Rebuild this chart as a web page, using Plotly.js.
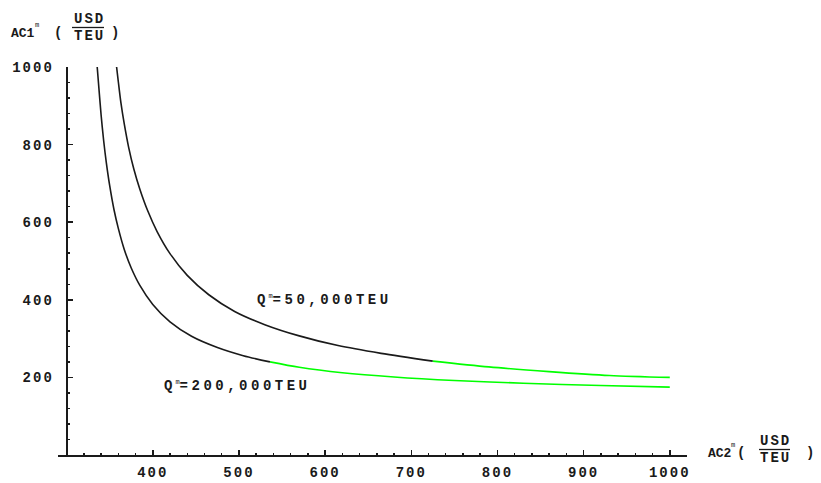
<!DOCTYPE html>
<html>
<head>
<meta charset="utf-8">
<script src="https://cdn.plot.ly/plotly-3.0.1.min.js"></script>
<style>html,body{margin:0;padding:0;background:#fff;}#chart{width:821px;height:483px;}</style>
</head>
<body>
<div id="chart"></div>
<script>
// Q^m = 200,000 TEU curve (black part, then green part)
const lowBlackX = [335.5, 337, 340, 343, 346, 350, 355, 360, 367, 375, 385, 400, 420, 445, 475, 505, 536];
const lowBlackY = [1000, 958, 877, 810, 755, 694, 632, 584, 529, 482, 437, 388, 343, 306, 277, 256, 240];
const lowGreenX = [536, 570, 620, 680, 750, 830, 920, 1000];
const lowGreenY = [240, 226, 212, 201, 192, 185, 179, 175];
// Q^m = 50,000 TEU curve
const upBlackX = [358, 360, 363, 367, 372, 378, 385, 394, 405, 420, 440, 465, 495, 530, 570, 615, 665, 725];
const upBlackY = [1000, 962, 908, 852, 793, 737, 685, 630, 576, 519, 463, 413, 370, 336, 307, 282, 262, 242];
const upGreenX = [725, 790, 860, 930, 1000];
const upGreenY = [242, 227, 215, 205, 200];

const xTickVals = [400, 500, 600, 700, 800, 900, 1000];
const yTickVals = [200, 400, 600, 800, 1000];
const curveLabels = ["Q", "=50,000TEU", "=200,000TEU"];

const L = 58, R = 134, T = 67, B = 28, W = 821, H = 483;
const PW = W - L - R, PH = H - T - B;
const px = v => (v - L) / PW;
const py = v => (H - B - v) / PH;

const FONT = "Liberation Mono, Courier New, monospace";
const black = "#1a1a1a", green = "#00ff00";
const sp = (t, s) => "<span style='letter-spacing:" + s + "px'>" + t + "</span>";
const sup = "<sup><span style='font-size:7px'>m</span></sup>";

function line(x, y, c) {
  return {x: x, y: y, type: "scatter", mode: "lines", line: {color: c, width: 1.6, shape: "spline", smoothing: 0.8}, hoverinfo: "skip", showlegend: false};
}
const traces = [
  line(lowBlackX, lowBlackY, black), line(lowGreenX, lowGreenY, green),
  line(upBlackX, upBlackY, black), line(upGreenX, upGreenY, green)
];

const xMinor = [], yMinor = [];
for (let v = 320; v < 1000; v += 20) if (v % 100) xMinor.push(v);
for (let v = 40; v < 1000; v += 40) if (v % 200) yMinor.push(v);

function ann(text, xpx, ypx, size, anchor) {
  return {text: text, xref: "paper", yref: "paper", x: px(xpx), y: py(ypx), xanchor: anchor || "center", yanchor: "middle",
    showarrow: false, font: {family: FONT, size: size, color: black}};
}
const annotations = [
  ann("<b>AC1</b>", 9, 33, 13, "left"),
  ann("m", 37, 25, 7),
  ann("<b>(</b>", 57.5, 33, 14),
  ann("<b>" + sp("USD", 2) + "</b>", 89, 19, 14),
  ann("<b>" + sp("TEU", 2) + "</b>", 89, 35.5, 14),
  ann("<b>)</b>", 115, 33, 14),
  ann("<b>AC2</b>", 706, 453, 13, "left"),
  ann("m", 733, 445, 7),
  ann("<b>(</b>", 741, 453, 14),
  ann("<b>" + sp("USD", 2) + "</b>", 775, 441, 14),
  ann("<b>" + sp("TEU", 2) + "</b>", 775, 458, 14),
  ann("<b>)</b>", 810, 453, 14),
  ann("<b>" + sp(curveLabels[0], 3) + "</b>" + sup + "<b>" + sp(curveLabels[1], 3.5) + "</b>", 255, 300, 14, "left"),
  ann("<b>" + sp(curveLabels[0], 3) + "</b>" + sup + "<b>" + sp(curveLabels[2], 3.5) + "</b>", 162, 386, 14, "left")
];
const shapes = [
  {type: "line", xref: "paper", yref: "paper", x0: px(72), x1: px(104), y0: py(27.5), y1: py(27.5), line: {color: black, width: 1.3}},
  {type: "line", xref: "paper", yref: "paper", x0: px(759), x1: px(790), y0: py(449.5), y1: py(449.5), line: {color: black, width: 1.3}}
];
const tickText = vals => vals.map(v => "<b>" + sp(String(v), 2) + "</b>");

const layout = {
  width: W, height: H,
  margin: {l: L, r: R, t: T, b: B},
  paper_bgcolor: "#fff", plot_bgcolor: "#fff",
  showlegend: false,
  font: {family: FONT, color: black},
  xaxis: {range: [290, 1020], showgrid: false, zeroline: false, showline: true, linecolor: black, linewidth: 2,
    ticks: "inside", ticklen: 5, tickwidth: 1.5, tickcolor: black, tickvals: xTickVals, ticktext: tickText(xTickVals),
    minor: {tickvals: xMinor, ticks: "inside", ticklen: 2.5, tickwidth: 1.5, tickcolor: black, showgrid: false},
    tickfont: {family: FONT, size: 14, color: black}, ticklabelstandoff: 3, fixedrange: true},
  yaxis: {range: [0, 1000], anchor: "free", position: 10 / 730, showgrid: false, zeroline: false, showline: true, linecolor: black, linewidth: 2,
    ticks: "inside", ticklen: 5, tickwidth: 1.5, tickcolor: black, tickvals: yTickVals, ticktext: tickText(yTickVals),
    minor: {tickvals: yMinor, ticks: "inside", ticklen: 2.5, tickwidth: 1.5, tickcolor: black, showgrid: false},
    tickfont: {family: FONT, size: 14, color: black}, ticklabelstandoff: 9, fixedrange: true},
  annotations: annotations,
  shapes: shapes
};
Plotly.newPlot("chart", traces, layout, {staticPlot: true, displayModeBar: false});
</script>
</body>
</html>
